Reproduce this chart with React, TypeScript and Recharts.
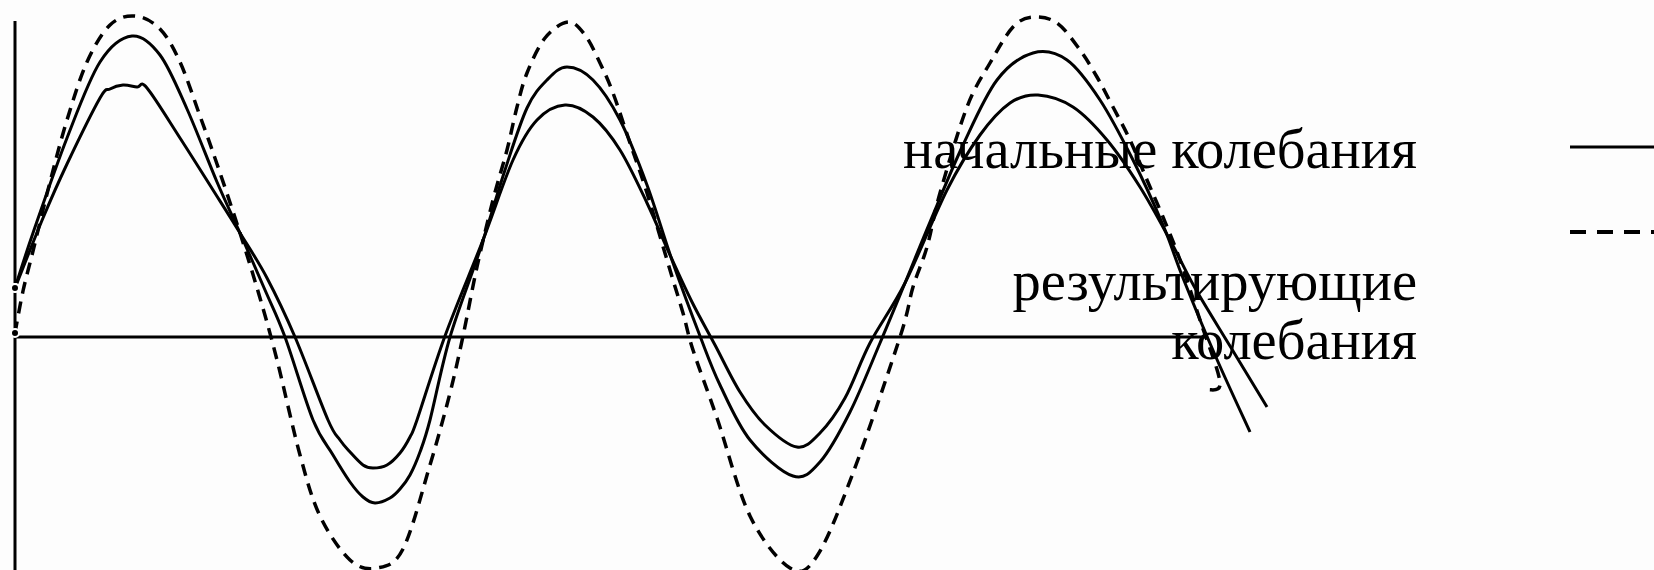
import React from 'react';
import { LineChart, Line, XAxis, YAxis, ReferenceLine, Legend } from 'recharts';

// time (arbitrary units) and displacement
const initialBigT = [0, 1.8, 5.2, 8.5, 11.7, 14.5, 17.2, 20.2, 22.5, 25.0, 27.0, 29.8, 31.8, 33.5, 34.8, 36.0, 37.5, 38.5, 39.5, 40.5, 41.5, 43.5, 46.5, 49.0, 51.2, 53.2, 55.2, 57.8, 60.5, 63.2, 65.8, 68.5, 70.5, 73.5, 77.8, 80.5, 83.5, 86.5, 89.0, 91.5, 94.8, 98.2, 101.8, 105.2, 108.5, 111.8, 114.8, 116.8, 120.0, 123.5];
const initialBigY = [4.9, 10.4, 19.9, 27.5, 30.1, 28.2, 22.8, 15.5, 10.4, 4.7, 0, -8.3, -11.8, -14.5, -16.0, -16.6, -16.1, -15.2, -13.8, -11.5, -8.3, 0, 8.7, 16.7, 22.9, 25.7, 27.0, 25.7, 21.7, 15.2, 7.4, 0.1, -4.8, -10.3, -13.9, -12.5, -7.5, -0.6, 5.4, 11.5, 19.2, 25.7, 28.4, 27.7, 23.7, 17.7, 11.2, 5.9, -1.8, -9.5];

const initialSmallT = [0, 2.8, 5.2, 8.5, 9.5, 10.8, 12.2, 13.2, 16.5, 19.8, 22.5, 25.2, 28.0, 31.3, 32.5, 33.5, 34.8, 35.8, 37.2, 38.5, 39.5, 40.2, 43.0, 46.8, 49.8, 52.2, 55.0, 57.8, 60.5, 63.2, 65.5, 67.7, 70.0, 72.5, 75.0, 78.2, 80.5, 83.0, 85.5, 89.0, 93.2, 96.5, 99.5, 102.3, 105.8, 109.2, 112.5, 115.5, 118.0, 121.5, 125.2];
const initialSmallY = [4.9, 11.9, 17.3, 23.9, 24.8, 25.2, 25.0, 24.9, 19.9, 14.7, 10.4, 5.9, 0, -8.3, -10.3, -11.5, -12.8, -13.1, -12.8, -11.6, -10.0, -8.3, 0.1, 9.7, 17.7, 21.7, 23.2, 22.0, 18.7, 13.4, 8.2, 3.5, -0.8, -5.5, -8.8, -11.0, -9.6, -6.1, -0.6, 5.4, 14.7, 20.2, 23.4, 24.2, 23.0, 19.7, 15.0, 9.7, 4.9, -0.9, -7.0];

const resultT = [0, 0.8, 1.8, 3.5, 5.2, 7.2, 9.5, 12.0, 14.5, 16.5, 18.5, 20.2, 22.5, 24.5, 26.2, 28.5, 30.5, 33.5, 36.2, 38.8, 41.5, 43.5, 44.8, 46.2, 47.8, 49.2, 50.2, 51.2, 53.0, 55.3, 57.0, 58.5, 59.8, 61.5, 63.2, 65.5, 66.8, 67.8, 70.2, 73.5, 77.5, 80.2, 83.8, 88.5, 89.8, 91.2, 92.5, 95.2, 97.5, 99.8, 101.8, 104.2, 106.5, 108.2, 109.8, 111.5, 113.2, 114.8, 116.5, 118.5, 120.5, 119.3];
const resultY = [0.4, 4.6, 8.6, 15.5, 21.7, 27.5, 31.2, 32.1, 30.8, 27.5, 22.1, 17.3, 10.4, 3.9, -2.3, -11.8, -17.9, -22.3, -23.1, -21.2, -12.8, -5.6, 0.1, 7.0, 13.7, 18.7, 23.0, 26.4, 29.9, 31.5, 30.2, 27.4, 24.4, 19.4, 14.4, 6.7, 2.4, -1.3, -8.1, -17.9, -23.1, -21.9, -13.6, 0, 5.0, 9.0, 14.4, 23.0, 27.4, 31.0, 32.0, 31.4, 28.7, 26.0, 23.0, 19.7, 15.7, 12.0, 7.7, 1.7, -4.5, -5.3];

const legendLabels = ['начальные колебания', 'результирующие', 'колебания'];

const toRows = (ts: number[], vs: number[]) => ts.map((t, i) => ({ t, v: vs[i] }));

const bigData = toRows(initialBigT, initialBigY);
const smallData = toRows(initialSmallT, initialSmallY);
const resultData = toRows(resultT, resultY);

const W = 1654;
const H = 570;

// catmull-rom through every point, so peaks keep their height
const catmullRom = (context: any) => {
    let pts: number[][] = [];
    return {
        areaStart() {},
        areaEnd() {},
        lineStart() { pts = []; },
        point(x: number, y: number) { pts.push([+x, +y]); },
        lineEnd() {
            if (!pts.length) return;
            context.moveTo(pts[0][0], pts[0][1]);
            for (let i = 0; i < pts.length - 1; i++) {
                const p0 = pts[i - 1] || pts[i];
                const p1 = pts[i];
                const p2 = pts[i + 1];
                const p3 = pts[i + 2] || p2;
                context.bezierCurveTo(
                    p1[0] + (p2[0] - p0[0]) / 6, p1[1] + (p2[1] - p0[1]) / 6,
                    p2[0] - (p3[0] - p1[0]) / 6, p2[1] - (p3[1] - p1[1]) / 6,
                    p2[0], p2[1],
                );
            }
        },
    };
};

const renderLegend = () => (
    <svg width={W} height={H} style={{ position: 'absolute', left: 0, top: 0, overflow: 'visible', pointerEvents: 'none' }}>
        <g fontFamily="'Liberation Serif', 'Times New Roman', serif" fontSize={56.5} fill="#000" textAnchor="end">
            <text x={1417} y={168}>{legendLabels[0]}</text>
            <text x={1417} y={300}>{legendLabels[1]}</text>
            <text x={1417} y={359}>{legendLabels[2]}</text>
        </g>
        <line x1={1570} x2={1660} y1={147} y2={147} stroke="#000" strokeWidth={3} />
        <line x1={1570} x2={1660} y1={232} y2={232} stroke="#000" strokeWidth={4} strokeDasharray="16 11" />
    </svg>
);

export default function App() {
    return (
        <div style={{ position: 'absolute', left: 0, top: 0, width: W, height: H, background: '#fdfdfd', overflow: 'hidden' }}>
            <LineChart width={W} height={H} margin={{ top: 0, right: 0, bottom: 0, left: 0 }}>
                <XAxis type="number" dataKey="t" domain={[-1.5, 163.9]} hide allowDataOverflow />
                <YAxis type="number" domain={[-23.3, 33.7]} hide allowDataOverflow />
                <ReferenceLine segment={[{ x: 0, y: 31.6 }, { x: 0, y: -23.3 }]} stroke="#000" strokeWidth={3} />
                <ReferenceLine segment={[{ x: 0, y: 0 }, { x: 119.1, y: 0 }]} stroke="#000" strokeWidth={3} />
                <Line data={bigData} dataKey="v" name="начальные колебания" type={catmullRom as any} stroke="#000" strokeWidth={3} dot={false} isAnimationActive={false} />
                <Line data={smallData} dataKey="v" name="начальные колебания" type={catmullRom as any} stroke="#000" strokeWidth={3} dot={false} isAnimationActive={false} />
                <Line data={resultData} dataKey="v" name="результирующие колебания" type={catmullRom as any} stroke="#000" strokeWidth={3.5} strokeDasharray="12 8" dot={false} isAnimationActive={false} />
                <Legend content={renderLegend} wrapperStyle={{ position: 'absolute', left: 0, top: 0, width: 0, height: 0, overflow: 'visible' }} />
            </LineChart>
        </div>
    );
}
